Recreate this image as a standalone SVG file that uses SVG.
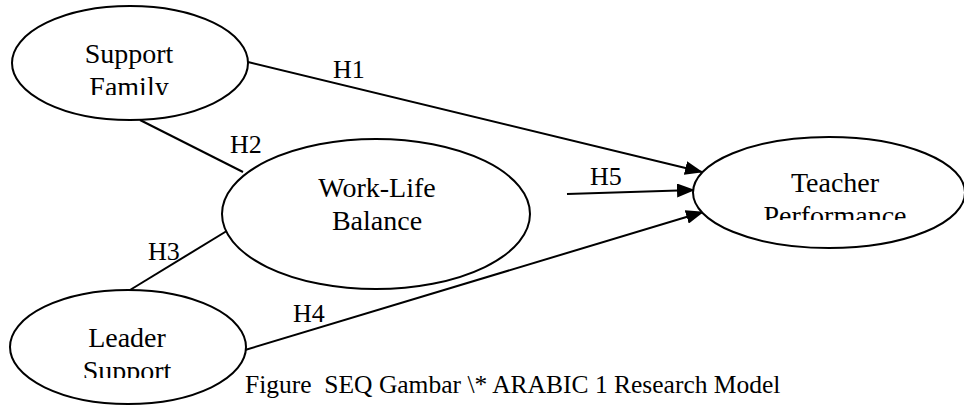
<svg xmlns="http://www.w3.org/2000/svg" width="964" height="405" viewBox="0 0 964 405">
<style>
.node{fill:#fff;stroke:#000;stroke-width:2}
.t{font-family:"Liberation Serif","Times New Roman",serif;font-size:28px;fill:#000;text-anchor:middle}
.lbl{font-family:"Liberation Serif","Times New Roman",serif;font-size:26px;fill:#000}
.edge{stroke:#000;stroke-width:2;fill:none}
</style>
<defs>
<marker id="arr" markerUnits="userSpaceOnUse" markerWidth="18" markerHeight="14" refX="17" refY="7" orient="auto">
<path d="M0,0 L18,7 L0,14 Z" fill="#000"/>
</marker>
<clipPath id="c1"><rect x="0" y="0" width="260" height="95"/></clipPath>
<clipPath id="c4"><rect x="690" y="130" width="274" height="90"/></clipPath>
<clipPath id="c5"><rect x="0" y="285" width="260" height="93"/></clipPath>
</defs>
<rect width="964" height="405" fill="#fff"/>
<g id="connectors">
<line class="edge" x1="248" y1="62" x2="702" y2="172" marker-end="url(#arr)"/>
<line class="edge" x1="140" y1="120" x2="243" y2="172"/>
<line class="edge" x1="130" y1="290" x2="230" y2="229"/>
<line class="edge" x1="245" y1="350" x2="703" y2="212" marker-end="url(#arr)"/>
<line class="edge" x1="567" y1="194" x2="694" y2="190" marker-end="url(#arr)"/>
<text class="lbl" x="333" y="78">H1</text>
<text class="lbl" x="230" y="153">H2</text>
<text class="lbl" x="148" y="260">H3</text>
<text class="lbl" x="293" y="322">H4</text>
<text class="lbl" x="590" y="185">H5</text>
</g>
<g id="support-family">
<ellipse class="node" cx="130" cy="63" rx="118" ry="57"/>
<g clip-path="url(#c1)">
<text class="t" x="129" y="63">Support</text>
<text class="t" x="129" y="96">Family</text>
</g>
</g>
<g id="work-life-balance">
<ellipse class="node" cx="376" cy="214" rx="154" ry="75"/>
<text class="t" x="377" y="197">Work-Life</text>
<text class="t" x="377" y="230">Balance</text>
</g>
<g id="teacher-performance">
<ellipse class="node" cx="829" cy="192.5" rx="136" ry="55.5"/>
<g clip-path="url(#c4)">
<text class="t" x="835" y="192">Teacher</text>
<text class="t" x="835" y="225">Performance</text>
</g>
</g>
<g id="leader-support">
<ellipse class="node" cx="128" cy="347" rx="118" ry="57"/>
<g clip-path="url(#c5)">
<text class="t" x="127" y="347">Leader</text>
<text class="t" x="127" y="380">Support</text>
</g>
</g>
<text x="245" y="393" xml:space="preserve" font-family="Liberation Serif, Times New Roman, serif" font-size="25.5" fill="#000">Figure  SEQ Gambar \* ARABIC 1 Research Model</text>
</svg>
